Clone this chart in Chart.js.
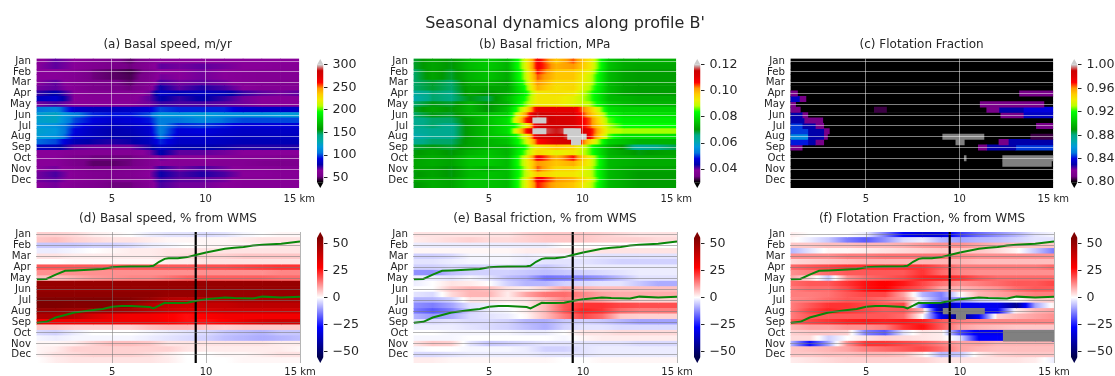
<!DOCTYPE html>
<html>
<head>
<meta charset="utf-8">
<title>Seasonal dynamics along profile B'</title>
<script src="https://cdn.jsdelivr.net/npm/chart.js@4"></script>
<style>
  html, body { margin: 0; background: #fff; width: 1115px; height: 376px; overflow: hidden; }
  #suptitle { position: absolute; left: 0; top: 13px; width: 1130px; text-align: center; font: 16px "DejaVu Sans"; color: #262626; filter: blur(0.35px); }
  canvas { position: absolute; filter: blur(0.35px); }
</style>
</head>
<body>
<div id="suptitle">Seasonal dynamics along profile B'</div>
<script>
const rowLabels = ["Jan","","Feb","","Mar","","Apr","","May","","Jun","","Jul","","Aug","","Sep","","Oct","","Nov","","Dec",""]
const kmNodes = [1,2,3,4,5,6,7,8,9,10,11,12,13,14,15]
const speedNodes = [1,2,3,4,5,6,7,7.6,8.6,9.8,11,12,13,14,15]
const frictionNodes = [1,2,3,4,5,6,6.9,7.6,8.6,9.5,10.4,11.4,12.2,13,15]
const kmEnds = [1,15]
const kmTicks = [5,10,15]

const speedRows = [
  [64,70,66,60,55,50,60,66,66,66,66,66,66,66,66],
  [66,70,66,60,56,52,62,70,68,70,68,66,66,64,64],
  [66,66,62,52,50,47,56,66,66,68,66,64,62,62,62],
  [66,66,62,52,50,48,58,68,66,68,66,64,62,62,62],
  [66,70,62,56,54,50,60,72,68,70,68,64,62,60,60],
  [68,70,64,56,54,52,62,78,70,76,72,66,62,62,62],
  [74,80,66,62,62,62,68,86,82,84,82,74,70,68,70],
  [84,88,66,64,64,64,70,80,74,80,74,68,66,66,66],
  [68,72,66,66,66,66,68,74,72,72,70,68,66,66,66],
  [105,110,88,84,84,86,90,100,96,96,96,88,86,86,86],
  [120,125,108,96,94,94,100,118,116,120,116,115,115,118,120],
  [122,125,100,92,88,90,94,108,105,112,104,100,100,100,100],
  [118,115,96,88,84,86,90,108,96,98,94,90,90,90,90],
  [122,118,92,84,80,82,88,108,90,92,88,86,86,86,86],
  [120,116,90,84,80,80,86,106,88,88,86,84,84,84,84],
  [104,100,82,78,76,78,84,96,86,86,84,82,82,82,82],
  [84,82,70,68,68,68,76,86,80,80,78,76,76,76,76],
  [66,66,62,62,62,62,68,80,70,70,68,66,66,66,66],
  [66,66,56,52,52,52,60,68,64,66,64,62,62,60,60],
  [66,66,56,50,50,52,60,66,64,64,62,62,58,56,58],
  [66,68,62,56,56,58,64,74,68,72,68,64,64,62,62],
  [68,72,64,60,58,60,66,78,72,76,72,66,66,64,64],
  [68,70,64,60,56,58,64,74,70,70,68,64,64,64,64],
  [66,68,62,58,52,52,62,72,68,68,66,64,64,64,64],
]

const frictionRows = [
  [.069,.072,.07,.075,.077,.074,.09,.108,.098,.104,.094,.076,.073,.073,.073],
  [.069,.072,.07,.075,.077,.074,.09,.108,.1,.102,.094,.076,.073,.072,.072],
  [.067,.072,.069,.074,.076,.073,.088,.106,.098,.098,.092,.075,.072,.071,.071],
  [.067,.072,.069,.074,.076,.073,.088,.104,.098,.098,.09,.075,.072,.071,.071],
  [.067,.069,.067,.073,.074,.072,.086,.102,.096,.096,.09,.075,.072,.071,.071],
  [.067,.069,.067,.072,.072,.072,.084,.1,.095,.096,.088,.075,.072,.071,.071],
  [.063,.067,.066,.072,.07,.073,.082,.094,.095,.094,.086,.075,.072,.071,.071],
  [.061,.067,.066,.07,.068,.075,.084,.094,.094,.092,.086,.075,.074,.073,.073],
  [.067,.07,.069,.074,.07,.074,.086,.094,.094,.092,.088,.077,.075,.074,.074],
  [.069,.072,.07,.074,.07,.076,.092,.11,.11,.11,.098,.08,.078,.078,.078],
  [.067,.07,.069,.074,.076,.078,.1,.116,.112,.112,.1,.084,.08,.08,.08],
  [.065,.067,.067,.072,.076,.08,.104,.118,.114,.112,.104,.086,.082,.082,.082],
  [.065,.067,.065,.072,.076,.08,.09,.112,.114,.112,.104,.088,.084,.084,.084],
  [.063,.065,.065,.072,.076,.08,.104,.118,.116,.118,.108,.09,.088,.088,.088],
  [.061,.065,.065,.072,.076,.078,.09,.112,.114,.118,.108,.086,.08,.08,.08],
  [.065,.067,.067,.072,.074,.076,.088,.106,.112,.114,.096,.078,.076,.074,.074],
  [.069,.07,.069,.072,.074,.074,.084,.094,.098,.096,.086,.074,.07,.064,.068],
  [.07,.072,.07,.074,.076,.074,.086,.096,.092,.094,.086,.074,.072,.07,.072],
  [.072,.073,.072,.076,.077,.075,.09,.108,.1,.106,.092,.075,.074,.073,.073],
  [.072,.073,.072,.076,.077,.075,.09,.102,.098,.1,.092,.075,.074,.073,.073],
  [.072,.072,.07,.075,.074,.075,.088,.104,.096,.096,.09,.075,.073,.072,.072],
  [.07,.072,.07,.075,.076,.075,.088,.098,.094,.094,.09,.075,.073,.071,.071],
  [.072,.073,.072,.076,.076,.075,.09,.108,.102,.1,.092,.075,.073,.071,.071],
  [.07,.073,.072,.076,.076,.075,.09,.106,.1,.098,.09,.075,.073,.071,.071],
]

// row, from km, to km, value
const frictionPatches = [
  [11,7.34,8.05,.12],[13,7.34,8.05,.12],[13,9,9.9,.12],[14,9.2,10.2,.12],[15,9.4,9.9,.12],
]

const flotationRows = [
  [.78,.78],[.78,.78],[.78,.78],[.78,.78],[.78,.78],[.78,.78],
  [.78,.78],[.78,.78],[.78,.78],[.78,.78],[.78,.78],[.78,.78],
  [.78,.78],[.78,.78],[.78,.78],[.78,.78],[.78,.78],[.78,.78],
  [.78,.78],[.78,.78],[.78,.78],[.78,.78],[.78,.78],[.78,.78],
]

// null value means no data (grey)
const flotationPatches = [
  [6,1,1.35,.81],[6,13.2,15,.81],
  [7,1,1.45,.835],[7,1.45,1.8,.81],
  [8,1,1.25,.81],[8,11.1,14.5,.81],
  [9,1,1.5,.81],[9,5.45,6.1,.805],[9,11.45,12.1,.81],[9,12.1,13.4,.83],[9,13.4,15,.84],
  [10,1,1.6,.83],[10,1.6,1.9,.81],[10,12.2,13.4,.81],[10,13.4,15,.835],
  [11,1,1.7,.83],[11,1.7,2.7,.81],
  [12,1,1.6,.845],[12,1.6,2.3,.83],[12,2.3,2.75,.81],[12,14.1,15,.81],
  [13,1,1.9,.845],[13,1.9,2.75,.83],[13,2.75,3.05,.81],
  [14,1,1.9,.855],[14,1.9,2.75,.83],[14,2.75,2.95,.81],[14,9.1,11.3,null],[14,13.8,15,.805],
  [15,1,1.9,.842],[15,1.9,2.3,.83],[15,2.3,2.75,.81],[15,9.8,10.25,null],[15,12.1,12.6,.81],[15,12.6,15,.83],
  [16,1,1.6,.81],[16,11,11.45,.81],[16,11.45,13,.83],[16,13,15,.845],
  [18,10.25,10.35,null],[18,12.3,15,null],
  [19,12.3,14.9,null],
]

const speedPctRows = [
  [5,5,4,2,1,0,-2,-3,-3,-4,-3,-1,0,1,1],
  [6,7,5,4,3,3,2,1,1,1,1,2,3,3,3],
  [-6,-6,-6,-5,-5,-4,-2,-1,0,1,1,1,2,3,3],
  [-2,-2,-1,0,1,2,2,3,3,3,3,3,3,3,3],
  [3,3,2,2,2,2,2,3,4,5,5,6,6,6,6],
  [0,0,1,1,1,1,1,2,2,3,3,3,3,3,3],
  [18,18,18,18,18,18,18,18,18,19,19,20,21,22,22],
  [12,12,12,12,12,12,12,12,12,12,12,12,12,13,13],
  [7,7,9,11,12,13,13,15,17,17,17,17,17,16,16],
  [50,50,50,50,50,50,50,50,50,50,50,50,50,50,50],
  [50,50,50,50,50,50,50,50,50,50,50,50,50,50,50],
  [52,52,52,52,52,52,52,50,50,50,50,50,50,50,50],
  [55,55,55,55,55,54,50,44,42,44,44,46,46,46,46],
  [55,55,54,54,54,50,44,40,38,40,40,42,42,42,42],
  [50,50,48,48,48,46,42,38,35,36,38,38,38,38,38],
  [45,45,42,36,32,30,30,28,26,28,30,30,30,30,30],
  [30,30,30,30,30,30,30,28,26,26,28,32,36,38,38],
  [6,6,5,5,5,5,7,8,8,6,5,6,6,6,6],
  [-4,-5,-2,0,0,0,-1,-2,-3,-4,-6,-7,-8,-6,-6],
  [-1,-2,-1,-1,-1,-1,-2,-3,-4,-5,-7,-8,-9,-8,-7],
  [1,1,2,5,7,7,6,3,3,3,3,3,3,2,2],
  [1,2,5,5,5,5,5,5,3,2,2,2,2,2,1],
  [1,3,4,5,5,5,4,2,0,0,1,1,2,3,3],
  [0,2,3,3,3,3,3,2,0,0,0,1,1,1,1],
]

const frictionPctRows = [
  [3,3,3,3,3,3,5,6,6,6,5,4,3,3,3],
  [2,3,4,5,4,4,5,6,6,6,5,5,5,4,4],
  [-2,-2,-2,-2,-2,-2,-2,-2,0,0,0,0,0,0,0],
  [1,1,1,1,1,1,2,2,3,3,3,3,3,3,3],
  [-5,-5,-4,-1,-1,-1,-2,-1,-1,-2,-3,-3,-3,-3,-3],
  [-3,-3,-2,-1,-1,-1,-2,-3,-3,-3,-4,-5,-5,-5,-5],
  [-5,-5,-4,-5,-4,-3,-4,-6,-4,-2,-2,-2,-2,-2,-2],
  [-12,-12,-7,-5,-5,-5,-6,-7,-6,-5,-4,-3,-2,-2,-2],
  [-2,-2,-3,-1,-3,-7,-9,-15,-14,-13,-11,-7,-3,-3,-3],
  [-2,0,3,2,0,-5,-8,-8,-5,-4,-3,-3,-6,-9,-9],
  [0,0,6,8,7,3,2,5,10,8,7,7,7,7,7],
  [-3,-4,4,8,8,2,10,15,16,13,10,9,9,9,9],
  [-8,-8,-5,3,3,2,3,8,13,12,10,6,5,5,5],
  [-12,-14,-10,-3,-2,0,2,8,18,22,22,20,19,19,19],
  [-14,-18,-14,-5,-2,-1,2,8,18,24,22,16,14,14,14],
  [-8,-11,-9,-4,-3,-2,1,7,14,20,16,6,5,5,5],
  [-3,-4,-3,-4,-4,-5,-8,-9,-6,-5,-6,-8,-10,-10,-10],
  [-2,-2,-2,-3,-4,-5,-7,-9,-5,-3,-3,-4,-4,-4,-4],
  [0,0,-1,-1,-1,-1,-2,-2,0,3,3,4,4,4,4],
  [-1,-1,-1,0,0,0,0,0,-1,1,2,2,2,2,2],
  [3,6,5,-3,-6,-5,-4,-3,-3,-3,-3,-3,-4,-4,-4],
  [-1,0,0,-1,-1,-1,-2,-5,-5,-3,-2,-2,-2,-2,-2],
  [-4,-4,-3,-2,-2,-2,-2,-3,-3,-3,-2,-2,-2,-2,-2],
  [2,2,1,1,1,1,1,1,0,0,1,1,1,1,1],
]

const flotationPctRows = [
  [2,0,0,0,-2,-14,-28,-33,-33,-22,-16,-12,-8,-3,-1],
  [1,-2,-6,-14,-18,-12,-4,-2,-8,-10,-8,-7,-5,-3,-3],
  [6,6,7,7,8,8,9,11,12,12,10,8,7,6,6],
  [-8,-3,1,1,2,3,4,5,6,6,6,4,1,-6,-14],
  [12,12,12,14,14,15,15,15,15,13,12,12,12,12,12],
  [4,5,6,7,8,8,8,8,8,8,7,7,7,7,7],
  [16,18,20,22,22,22,22,22,18,14,14,14,14,14,16],
  [12,14,16,18,18,18,18,22,16,13,12,12,12,12,12],
  [10,4,-6,12,16,18,20,24,24,22,18,16,16,16,16],
  [16,18,18,22,26,28,25,20,15,12,14,16,18,18,20],
  [14,16,16,20,26,28,22,18,10,8,10,12,16,18,18],
  [14,14,15,18,20,20,10,-8,-14,0,8,10,12,14,14],
  [13,14,16,18,18,16,12,-3,-14,-12,-5,-3,0,5,6],
  [14,18,22,22,20,18,20,-18,-42,-30,-30,-30,-45,-10,2],
  [14,20,24,22,20,18,18,8,-42,-36,-30,-28,2,8,10],
  [14,18,18,18,18,18,16,0,-30,-48,-28,5,8,10,12],
  [18,20,22,24,25,24,25,24,18,14,13,13,13,13,13],
  [8,10,10,12,12,14,22,26,18,10,8,7,6,6,6],
  [5,6,6,5,-14,-18,-3,3,2,-20,-30,-30,-32,-32,-32],
  [4,4,-5,0,3,5,4,3,2,-3,-28,-28,-30,-30,-30],
  [-8,-26,-10,12,22,22,20,18,14,10,10,8,8,8,8],
  [6,7,8,10,14,16,18,20,16,10,8,7,7,7,7],
  [6,6,7,7,8,8,7,2,-8,-6,2,5,6,6,6],
  [2,3,4,5,5,5,5,5,3,3,3,3,3,2,-2],
]

const flotationPctPatches = [
  [14,9.1,11.3,null],[15,9.8,10.3,null],[18,12.3,15,null],[19,12.3,15,null],[19,14.9,15,-40],
]

// green profile lines: km, month position
const lineKm = [1,1.5,2,2.5,3,4,4.5,5,5.5,6,7,7.2,7.5,7.8,8,8.5,9,9.5,10,11,11.5,12,12.5,13,14,15]
const upperLine = [4.08,4.05,3.65,3.31,3.28,3.19,3.13,2.98,2.94,2.91,2.88,2.85,2.48,2.21,2.15,2.15,2.05,1.84,1.63,1.29,1.2,1.13,.98,.92,.83,.61]
const lowerLine = [8.07,7.98,7.58,7.36,7.12,6.9,6.81,6.6,6.53,6.53,6.63,6.75,6.5,6.23,6.26,6.26,6.23,6.04,5.92,5.74,5.8,5.83,5.85,5.67,5.74,5.67]
const markerKm = [9.45,9.45]
const markerMonths = [-0.25,11.75]

const speedTicks = [50,100,150,200,250,300]
const frictionTicks = [.04,.06,.08,.1,.12]
const flotationTicks = [.8,.84,.88,.92,.96,1]
const pctTicks = [-50,-25,0,25,50]

const nipySpectral = [
  [0,0,0,0],[.05,119,0,136],[.1,136,0,153],[.15,0,0,170],[.2,0,0,221],[.25,0,119,221],[.3,0,153,221],
  [.35,0,170,170],[.4,0,170,136],[.45,0,153,0],[.5,0,187,0],[.55,0,221,0],[.6,0,255,0],[.65,187,255,0],
  [.7,238,238,0],[.75,255,204,0],[.8,255,153,0],[.85,255,0,0],[.9,221,0,0],[.95,204,0,0],[1,204,204,204],
]
const seismic = [[0,0,0,77],[.25,0,0,255],[.5,255,255,255],[.75,255,0,0],[1,128,0,0]]

const textColor = "#262626"
const fontFamily = "DejaVu Sans"

function colorAt(stops, t) {
  t = Math.min(1, Math.max(0, t))
  let i = 0
  while (i < stops.length - 2 && t > stops[i + 1][0]) i++
  const a = stops[i]
  const b = stops[i + 1]
  const f = (t - a[0]) / (b[0] - a[0])
  const mix = (k) => Math.round(a[k] + (b[k] - a[k]) * f)
  return `rgb(${mix(1)},${mix(2)},${mix(3)})`
}

function makeCanvas(left, top, width, height) {
  const canvas = document.createElement("canvas")
  canvas.width = width
  canvas.height = height
  canvas.style.left = left + "px"
  canvas.style.top = top + "px"
  canvas.style.width = width + "px"
  canvas.style.height = height + "px"
  document.body.appendChild(canvas)
  return canvas
}

function drawPanel(p) {
  const color = (v) => (v === null ? "#808080" : colorAt(p.cmap, (v - p.vmin) / (p.vmax - p.vmin)))
  const datasets = []

  // one dataset per km interval, each bar a cell of a row
  const nodes = p.nodes
  for (let c = 0; c < nodes.length - 1; c++) {
    datasets.push({
      order: 2,
      data: p.rows.map(() => [nodes[c], nodes[c + 1]]),
      backgroundColor: (ctx) => {
        if (ctx.dataIndex === undefined) return "transparent"
        const x0 = ctx.chart.scales.x.getPixelForValue(nodes[c])
        const x1 = ctx.chart.scales.x.getPixelForValue(nodes[c + 1])
        if (!isFinite(x0) || !isFinite(x1)) return "transparent"
        const g = ctx.chart.ctx.createLinearGradient(x0, 0, x1, 0)
        const v0 = p.rows[ctx.dataIndex][c]
        const v1 = p.rows[ctx.dataIndex][c + 1]
        for (let s = 0; s <= 8; s++) g.addColorStop(s / 8, color(v0 + ((v1 - v0) * s) / 8))
        return g
      },
    })
  }

  ;(p.patches || []).forEach(([row, x0, x1, value]) => {
    datasets.push({
      order: 1,
      data: p.rows.map((r, i) => (i === row ? [x0, x1] : null)),
      backgroundColor: color(value),
    })
  })

  if (p.lines) {
    const lineSet = (xs, ys, lineColor, width) => ({
      type: "line",
      order: 0,
      indexAxis: "x",
      xAxisID: "x2",
      yAxisID: "y2",
      data: xs.map((x, i) => ({ x: x, y: ys[i] })),
      borderColor: lineColor,
      borderWidth: width,
      pointRadius: 0,
      tension: 0,
    })
    datasets.push(lineSet(lineKm, upperLine, "#0a870a", 2))
    datasets.push(lineSet(lineKm, lowerLine, "#0a870a", 2))
    datasets.push(lineSet(markerKm, markerMonths, "#000000", 2.2))
  }

  new Chart(makeCanvas(p.left - 36, p.top - p.titleSpace, 36 + 264 + 20, p.titleSpace + p.height + p.xSpace), {
    type: "bar",
    data: { labels: rowLabels, datasets: datasets },
    options: {
      indexAxis: "y",
      responsive: false,
      animation: false,
      events: [],
      grouped: false,
      barPercentage: 1,
      categoryPercentage: 1,
      layout: { padding: { right: 20 } },
      plugins: {
        legend: { display: false },
        tooltip: { enabled: false },
        title: {
          display: true,
          fullSize: false,
          text: p.title,
          color: textColor,
          font: { family: fontFamily, size: 12, weight: "normal" },
          padding: { top: 0, bottom: p.titleSpace - 14.4 },
        },
      },
      scales: {
        x: {
          type: "linear",
          min: 0.95,
          max: 15,
          afterBuildTicks: (axis) => { axis.ticks = kmTicks.map((v) => ({ value: v })) },
          afterFit: (axis) => { axis.height = p.xSpace },
          ticks: {
            autoSkip: false,
            maxRotation: 0,
            padding: p.xPad,
            color: textColor,
            font: { family: fontFamily, size: 10 },
            callback: (v) => (v === 15 ? "15 km" : String(v)),
          },
          border: { display: false },
          grid: { color: p.gridColor, z: 1, drawTicks: false, lineWidth: 1 },
        },
        y: {
          afterFit: (axis) => { axis.width = 36 },
          ticks: {
            autoSkip: false,
            padding: 5,
            color: textColor,
            font: { family: fontFamily, size: 10.2 },
          },
          border: { display: false },
          grid: {
            offset: false,
            z: 1,
            drawTicks: false,
            color: (ctx) => (ctx.index % 2 ? "transparent" : p.gridColor),
          },
        },
        x2: { type: "linear", axis: "x", display: false, min: 0.95, max: 15 },
        y2: { type: "linear", axis: "y", display: false, offset: false, min: -0.25, max: 11.75, reverse: true },
      },
    },
  })
}

function drawColorbar(p) {
  const ext = (p.vmax - p.vmin) * 0.05
  const shape = (xs, ys, fill) => ({
    data: xs.map((x, i) => ({ x: x, y: ys[i] })),
    showLine: true,
    fill: "shape",
    backgroundColor: fill,
    borderWidth: 0,
    pointRadius: 0,
    clip: false,
  })
  const bodyFill = (ctx) => {
    const y = ctx.chart.scales.y
    if (!y) return "transparent"
    const y0 = y.getPixelForValue(p.vmin)
    const y1 = y.getPixelForValue(p.vmax)
    if (!isFinite(y0) || !isFinite(y1)) return "transparent"
    const g = ctx.chart.ctx.createLinearGradient(0, y0, 0, y1)
    for (let s = 0; s <= 40; s++) g.addColorStop(s / 40, colorAt(p.cmap, s / 40))
    return g
  }

  new Chart(makeCanvas(p.cbLeft, p.top - 8, 60, p.height + 16), {
    type: "scatter",
    data: {
      datasets: [
        shape([0, 1, 1, 0], [p.vmin, p.vmin, p.vmax, p.vmax], bodyFill),
        shape([0, 1, 0.5], [p.vmax, p.vmax, p.vmax + ext], colorAt(p.cmap, 1)),
        shape([0, 1, 0.5], [p.vmin, p.vmin, p.vmin - ext], colorAt(p.cmap, 0)),
      ],
    },
    options: {
      responsive: false,
      animation: false,
      events: [],
      layout: { padding: { top: 8, bottom: 8 } },
      plugins: { legend: { display: false }, tooltip: { enabled: false }, title: { display: false } },
      scales: {
        x: { type: "linear", display: false, min: 0, max: 1 },
        y: {
          type: "linear",
          position: "right",
          min: p.vmin - ext,
          max: p.vmax + ext,
          afterBuildTicks: (axis) => { axis.ticks = p.ticks.map((v) => ({ value: v })) },
          afterFit: (axis) => {
            axis.width = 53.5
            axis.paddingTop = 0
            axis.paddingBottom = 0
          },
          ticks: {
            autoSkip: false,
            padding: 5,
            color: textColor,
            font: { family: fontFamily, size: 12.6 },
            callback: (v) => v.toFixed(p.digits).replace("-", "\u2212"),
          },
          border: { display: false },
          grid: { drawOnChartArea: false, tickLength: 4, tickColor: textColor, lineWidth: 1 },
        },
      },
    },
  })
}

const topRow = { top: 58.5, height: 129.5, titleSpace: 20.5, xSpace: 20, xPad: 5, gridColor: "rgba(255,255,255,0.5)", lines: false }
const bottomRow = { top: 232, height: 131, titleSpace: 20, xSpace: 13, xPad: 3, gridColor: "rgba(120,120,120,0.55)", lines: true }

const panels = [
  { ...topRow, left: 36, cbLeft: 316.5, title: "(a) Basal speed, m/yr", nodes: speedNodes, rows: speedRows, cmap: nipySpectral, vmin: 40, vmax: 300, ticks: speedTicks, digits: 0 },
  { ...topRow, left: 413, cbLeft: 694, title: "(b) Basal friction, MPa", nodes: frictionNodes, rows: frictionRows, patches: frictionPatches, cmap: nipySpectral, vmin: 0.03, vmax: 0.12, ticks: frictionTicks, digits: 2 },
  { ...topRow, left: 790, cbLeft: 1070.5, title: "(c) Flotation Fraction", nodes: kmEnds, rows: flotationRows, patches: flotationPatches, cmap: nipySpectral, vmin: 0.8, vmax: 1, ticks: flotationTicks, digits: 2 },
  { ...bottomRow, left: 36, cbLeft: 316.5, title: "(d) Basal speed, % from WMS", nodes: kmNodes, rows: speedPctRows, cmap: seismic, vmin: -55, vmax: 55, ticks: pctTicks, digits: 0 },
  { ...bottomRow, left: 413, cbLeft: 694, title: "(e) Basal friction, % from WMS", nodes: kmNodes, rows: frictionPctRows, cmap: seismic, vmin: -55, vmax: 55, ticks: pctTicks, digits: 0 },
  { ...bottomRow, left: 790, cbLeft: 1070.5, title: "(f) Flotation Fraction, % from WMS", nodes: kmNodes, rows: flotationPctRows, patches: flotationPctPatches, cmap: seismic, vmin: -55, vmax: 55, ticks: pctTicks, digits: 0 },
]

panels.forEach((p) => {
  drawPanel(p)
  drawColorbar(p)
})
</script>
</body>
</html>
